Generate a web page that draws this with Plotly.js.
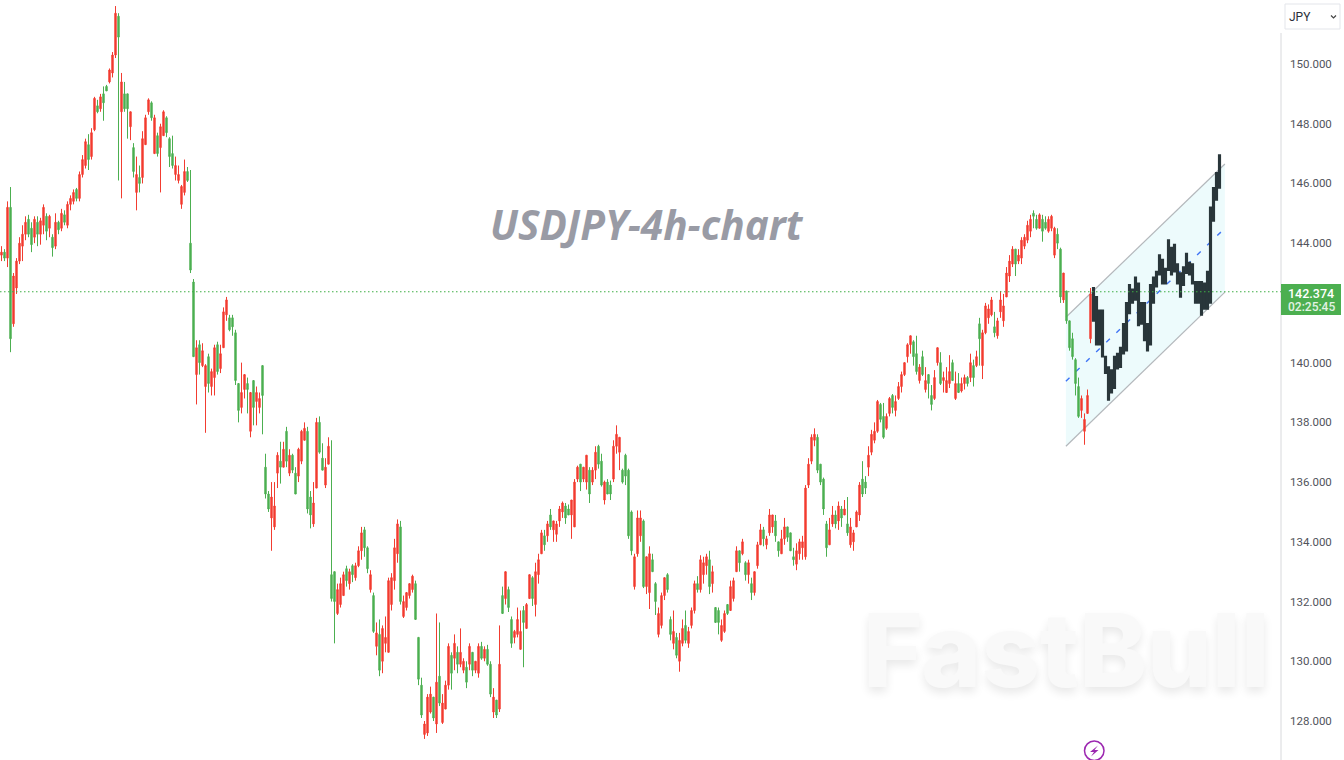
<!DOCTYPE html>
<html><head><meta charset="utf-8">
<script src="https://cdn.plot.ly/plotly-3.0.1.min.js"></script>
<style>html,body{margin:0;padding:0;background:#fff;overflow:hidden}#c{width:1344px;height:760px}</style>
</head><body><div id="c"></div>
<script>
const opens=[
143.6,143.7,143.5,145.2,141.3,142.5,143.4,143.9,144.3,144.8,144.5,144.2,144.7,144.3,144.6,144.9,144.5,144.2,143.9,144.7,
144.5,144.95,144.6,145.3,145.4,145.8,145.5,146.3,146.6,147.3,146.9,147.8,148.6,148.5,149.0,149.25,149.4,149.7,150.3,151.6,
148.4,149.0,149.0,147.9,147.2,145.7,146.2,146.2,147.3,148.4,148.7,147.0,147.6,147.2,147.6,148.2,147.5,147.0,146.3,146.1,
145.3,145.7,146.4,144.0,142.7,139.6,140.6,139.9,139.2,140.2,139.2,139.5,140.6,139.8,140.5,141.6,141.5,141.5,141.0,139.3,
138.5,139.1,139.3,137.7,139.4,138.7,138.5,139.9,136.5,135.6,134.8,134.5,136.3,136.7,136.5,137.7,136.3,136.9,136.3,136.2,
136.7,137.4,137.7,135.5,134.6,135.8,138.0,136.8,135.9,136.6,132.9,133.0,131.6,131.9,132.2,133.1,132.6,133.2,132.8,133.2,
133.7,134.4,133.8,132.4,132.2,130.5,130.9,130.0,130.6,130.3,131.9,132.7,133.6,134.5,131.5,131.8,132.2,132.4,132.6,130.8,
129.2,127.55,127.6,128.3,128.8,127.9,129.5,127.95,128.4,129.2,130.2,130.1,130.3,129.9,129.7,129.8,129.9,130.3,129.7,129.6,
130.5,130.1,130.4,129.9,128.3,128.7,128.4,132.2,132.1,132.4,131.4,130.8,130.9,130.4,131.7,131.1,132.1,132.8,131.9,132.9,
133.6,134.2,134.2,134.9,134.4,134.25,134.7,135.0,135.2,135.1,134.9,134.5,136.1,136.6,136.1,136.0,136.4,136.0,136.4,137.2,
136.7,135.4,136.0,135.9,136.1,137.2,137.0,136.4,136.9,136.4,135.0,132.5,133.6,134.2,134.7,132.5,132.3,133.4,132.6,130.9,
131.2,132.2,132.9,131.4,130.6,130.8,130.0,130.6,131.2,130.6,131.2,131.7,132.6,132.4,132.9,133.2,133.4,132.6,131.8,131.7,
130.7,131.0,131.9,131.7,132.1,133.0,133.7,133.6,133.3,132.9,132.6,132.3,133.2,133.9,134.4,133.9,134.3,134.5,134.7,134.0,
133.6,134.1,134.5,134.3,133.5,133.25,133.6,133.8,133.5,135.9,136.7,137.4,137.5,136.6,136.1,134.6,133.9,134.6,134.9,134.7,
135.1,134.9,134.6,133.9,134.0,134.5,134.9,136.1,136.0,136.5,137.0,137.4,137.7,138.6,138.2,137.8,138.3,138.9,138.4,138.8,
139.2,139.6,140.2,140.6,140.7,140.3,139.4,140.2,139.1,139.6,138.9,138.8,140.0,140.0,139.4,139.0,139.3,140.0,138.8,139.3,
139.05,139.3,139.5,139.5,139.9,139.9,141.3,139.9,141.0,141.5,141.6,141.2,140.9,141.7,141.4,142.2,142.9,143.3,143.8,143.4,
143.5,143.9,144.1,144.4,145.0,144.8,144.5,144.8,144.7,144.4,144.5,143.6,144.3,143.8,142.1,142.4,141.4,140.8,140.1,139.2,
138.4,137.7,138.3,140.8];
const highs=[
143.9,143.8,145.4,145.88,143.0,143.5,144.2,144.6,144.9,144.95,144.7,144.9,144.9,144.85,145.3,145.0,144.95,144.3,145.0,144.75,
145.15,145.1,145.4,145.6,145.8,145.85,146.4,146.95,147.5,147.65,147.85,148.9,148.8,149.0,149.25,149.3,149.85,150.4,151.94,151.7,
149.7,149.4,149.0,148.4,147.35,146.9,146.6,147.75,148.3,148.85,148.75,148.3,147.7,148.0,148.45,148.25,147.55,147.6,146.9,146.6,
145.95,146.8,146.55,146.45,142.8,140.75,140.75,140.65,139.95,140.3,139.8,140.6,140.7,140.6,141.85,142.2,141.6,141.6,141.1,139.3,
140.0,139.6,139.5,139.0,139.4,139.2,139.0,139.9,136.95,135.7,136.0,136.0,137.0,137.35,137.35,137.85,137.1,136.95,136.5,137.15,
137.75,138.0,137.85,135.7,136.0,138.15,138.2,137.3,136.8,137.5,137.4,133.0,132.6,132.8,133.0,133.2,133.1,133.25,133.3,133.85,
134.5,134.5,133.85,133.05,132.3,131.3,131.4,131.2,131.5,132.8,132.95,134.1,134.75,134.7,132.2,132.3,132.6,132.9,132.7,130.8,
129.45,128.0,128.9,129.15,128.8,131.6,131.3,128.9,129.35,130.6,130.3,130.9,130.5,131.1,130.1,130.0,130.6,130.3,130.0,130.6,
130.65,130.5,130.55,130.0,129.1,128.7,131.2,132.5,133.0,132.5,131.5,131.05,131.8,131.7,131.85,131.95,132.9,132.85,133.3,133.6,
134.4,134.4,134.7,135.1,134.7,134.7,135.2,135.35,135.3,135.25,135.4,136.1,136.55,136.6,136.5,136.9,136.5,136.5,137.2,137.25,
136.95,136.05,136.1,136.05,137.4,137.9,137.5,136.45,136.95,136.45,135.05,133.6,135.05,135.05,134.75,133.5,133.85,133.6,132.65,131.8,
132.3,132.8,132.95,131.5,131.7,130.95,130.95,131.4,131.7,131.15,131.8,132.7,132.85,133.55,133.5,133.6,133.7,133.2,131.8,131.8,
131.4,131.7,131.9,132.7,132.8,133.85,133.7,134.1,133.35,133.4,132.8,133.0,134.0,134.6,134.5,134.2,135.1,134.9,134.9,134.0,
134.4,134.8,134.5,134.3,133.8,133.95,134.1,134.2,135.9,136.8,137.6,137.8,137.6,136.6,136.15,134.7,134.8,135.2,135.05,135.35,
135.2,135.4,135.5,134.8,134.4,135.05,136.0,136.7,136.2,137.2,137.75,138.0,138.75,138.65,138.65,138.3,138.85,138.95,138.9,139.35,
139.7,140.0,140.65,140.9,140.75,140.9,139.95,140.4,139.85,139.6,139.25,139.75,140.5,140.35,139.7,139.85,140.25,140.1,139.7,139.65,
139.5,139.6,139.55,140.3,140.1,140.4,141.5,141.1,142.0,141.95,142.2,141.7,141.5,142.4,142.3,143.2,143.6,143.9,143.8,143.8,
144.2,144.3,144.75,144.95,145.1,144.95,145.0,144.95,144.9,144.9,144.95,144.55,144.5,143.85,143.0,142.4,141.4,141.0,140.15,139.5,
138.9,138.3,139.1,142.5];
const lows=[
143.4,143.4,143.2,140.35,141.2,142.3,143.3,143.4,144.1,144.2,143.7,144.0,143.9,143.95,144.3,144.1,144.2,143.55,143.8,144.3,
144.4,144.6,144.5,145.1,145.3,145.4,145.4,146.2,146.5,146.45,146.8,147.75,148.35,148.4,148.1,149.1,149.35,149.55,150.2,146.1,
145.5,148.4,147.5,147.45,146.2,145.1,145.7,146.0,147.3,148.3,148.1,147.0,146.9,145.7,147.6,147.55,146.55,146.5,146.1,146.0,
145.15,145.6,146.05,143.0,140.2,138.6,139.6,139.85,137.65,139.0,138.9,138.9,139.6,139.65,140.5,141.4,141.05,140.9,139.25,138.0,
138.3,138.8,138.3,137.5,137.9,137.9,138.3,137.6,135.45,135.0,133.7,134.4,135.8,135.95,136.5,136.5,136.2,136.3,135.6,136.0,
136.6,137.4,134.95,134.45,134.5,135.8,136.95,136.4,135.8,136.6,132.0,130.6,131.55,131.8,132.2,132.5,132.4,132.65,132.7,133.15,
133.4,133.5,132.95,132.3,130.95,130.2,129.5,129.6,130.3,130.3,131.7,132.4,133.3,131.9,131.45,131.7,132.1,132.3,131.4,129.2,
128.1,127.4,127.5,128.25,128.0,127.6,128.5,127.9,128.4,129.05,129.05,129.7,129.6,129.8,129.6,129.1,129.7,129.5,129.6,129.45,
130.05,130.0,129.85,128.8,128.1,128.1,128.3,131.6,131.9,131.65,130.45,130.6,130.8,130.4,129.8,131.1,132.1,131.85,131.5,132.6,
133.6,133.7,134.0,134.4,134.0,134.0,134.5,134.8,134.6,134.9,134.1,134.5,136.0,135.7,136.0,135.75,135.3,135.9,136.1,136.45,
135.85,135.25,135.6,135.4,136.0,136.95,136.4,135.95,135.9,134.1,133.55,132.4,133.5,134.0,132.45,132.25,131.75,133.0,131.55,130.8,
131.1,132.05,132.3,130.7,130.4,130.1,129.65,130.5,130.6,130.45,131.1,131.6,132.3,132.3,132.6,132.9,132.25,132.3,131.3,130.9,
130.65,130.95,131.55,131.7,132.0,133.0,133.0,133.55,132.7,132.6,132.05,132.2,133.1,133.9,133.85,133.75,134.2,134.3,134.0,133.5,
133.6,133.9,134.0,133.7,133.2,133.05,133.4,133.4,133.4,135.8,136.6,137.2,136.3,135.9,134.9,133.5,133.9,134.5,134.45,134.4,
134.5,134.9,134.2,133.8,133.7,134.5,134.7,135.5,135.6,136.2,136.9,137.3,137.65,138.0,137.45,137.75,138.2,138.3,138.2,138.75,
139.0,139.55,140.0,140.3,139.9,139.6,139.3,139.55,139.0,138.8,138.4,138.75,139.9,139.25,139.0,139.0,139.15,139.4,138.75,139.0,
139.0,139.1,139.2,139.35,139.2,139.85,139.9,139.45,140.95,141.3,141.55,140.85,140.8,141.5,141.2,142.2,142.7,143.2,142.9,143.3,
143.3,143.8,144.0,144.2,144.5,144.45,144.5,144.05,144.45,144.35,144.4,143.5,143.8,142.0,142.0,141.3,140.4,140.1,138.9,138.15,
138.15,137.25,138.3,140.65];
const closes=[
143.7,143.5,145.2,140.8,142.9,143.4,144.0,144.3,144.7,144.3,143.95,144.8,144.3,144.75,145.2,144.4,144.9,143.85,144.7,144.45,
145.0,144.7,145.3,145.5,145.7,145.5,146.3,146.8,147.4,146.8,147.7,148.85,148.4,148.9,148.7,149.1,149.8,150.3,151.7,150.9,
149.4,148.5,148.5,148.4,146.4,146.3,146.0,147.5,148.2,148.8,148.2,148.2,147.0,147.9,148.4,147.7,146.9,146.6,146.6,146.3,
145.9,146.4,146.1,143.1,140.2,140.5,140.0,140.4,139.9,139.3,139.7,140.5,139.7,140.3,141.7,142.1,141.1,141.2,139.4,138.4,
139.0,139.6,139.1,139.0,138.5,139.0,138.8,138.9,135.6,135.1,135.5,135.2,136.9,136.5,137.1,136.7,136.9,136.4,135.6,137.1,
137.7,137.8,135.1,134.9,135.3,138.0,137.0,136.4,136.5,137.2,132.1,132.0,132.4,132.6,132.9,132.7,133.0,132.9,133.2,133.7,
134.3,133.8,133.1,132.9,131.0,130.95,129.7,131.1,130.8,132.7,132.8,133.8,134.6,132.0,132.0,132.3,132.6,132.85,131.4,129.4,
128.2,127.9,128.8,128.9,128.1,129.3,128.6,128.6,129.2,130.5,129.6,130.6,129.9,130.3,130.0,129.3,130.5,129.7,130.0,130.5,
130.1,130.4,129.9,128.9,128.8,128.2,129.9,131.6,133.0,131.8,130.6,131.0,131.4,131.0,131.3,131.9,132.9,132.1,133.0,133.4,
134.3,133.9,134.6,134.5,134.7,134.6,135.1,135.3,134.8,134.9,135.4,136.0,136.5,136.0,136.5,136.9,135.6,136.4,137.0,136.6,
135.9,136.0,135.6,135.6,137.2,137.6,137.5,136.0,136.2,134.2,133.7,133.5,134.8,134.8,132.5,133.5,133.6,133.0,132.0,131.6,
132.2,132.8,132.4,130.9,131.0,130.2,130.7,131.1,130.7,131.0,131.7,132.6,132.4,133.4,133.3,133.5,132.5,133.0,131.3,131.3,
131.2,131.6,131.6,132.5,132.7,133.7,133.3,134.0,132.9,133.3,132.3,133.0,133.9,134.4,134.1,134.1,134.9,134.9,134.2,133.7,
134.1,134.5,134.15,133.7,133.4,133.7,134.0,134.0,135.8,136.6,137.5,137.6,136.4,136.0,135.1,133.8,134.4,134.9,134.6,135.2,
134.8,135.1,134.3,134.5,134.3,135.0,135.9,135.6,135.8,136.9,137.6,137.7,138.7,138.1,137.5,138.2,138.8,138.5,138.7,139.2,
139.6,140.0,140.6,140.9,140.2,139.7,139.85,139.6,139.4,139.3,138.6,139.5,140.5,139.3,139.5,139.4,139.7,139.4,139.3,139.0,
139.3,139.5,139.3,140.0,139.5,140.2,140.8,141.0,141.9,141.8,142.1,141.0,141.4,142.1,141.9,143.0,143.4,143.8,143.3,143.6,
144.1,144.2,144.6,144.8,144.9,144.5,144.95,144.4,144.5,144.8,144.9,144.5,144.0,142.2,143.0,141.4,140.5,140.2,139.3,138.2,
138.8,138.1,138.9,142.3];

const darkTops=[142.5,142.2,141.75,141.75,140.2,139.85,139.75,140.2,140.3,140.5,141.3,142.0,142.6,142.45,142.85,142.65,142.0,142.0,141.3,142.6,142.85,143.05,143.6,143.45,143.15,144.1,143.85,143.95,143.3,143.0,143.2,143.65,143.35,143.3,142.7,142.7,142.7,142.65,143.05,145.2,145.85,146.35,146.95];
const darkBottoms=[141.4,140.6,140.6,140.2,139.65,138.75,139.0,139.15,139.8,139.85,140.3,140.4,141.65,142.0,142.1,141.25,141.3,140.75,140.4,140.6,142.0,142.55,142.95,142.65,142.65,143.1,142.95,143.05,142.65,142.2,142.6,143.0,142.95,142.65,142.0,142.0,141.6,141.8,141.8,142.0,144.75,145.45,145.85];

const channelUpper=[141.52,146.65];
const channelMiddle=[139.38,144.50];
const channelLower=[137.20,142.36];
const channelBars=[354.8,407.8];
const lastPrice=142.374;
const countdown="02:25:45";
const tickValues=[128,130,132,134,136,138,140,144,146,148,150];
const titleText="USDJPY-4h-chart";
const watermark="FastBull";

const W=1344,H=760,R=1281;
const px=x=>x/R, py=y=>1-y/H;
const barIndex=opens.map((_,i)=>i);
const darkIndex=darkTops.map((_,i)=>opens.length+i);
const UP='#f23c30',DOWN='#4caf50',DARK='#29363a';

const traces=[
 {type:'candlestick',x:barIndex,open:opens,high:highs,low:lows,close:closes,showlegend:false,whiskerwidth:0,
  increasing:{line:{color:UP,width:1},fillcolor:UP},decreasing:{line:{color:DOWN,width:1},fillcolor:DOWN}},
 {type:'candlestick',x:darkIndex,open:darkBottoms,high:darkTops,low:darkBottoms,close:darkTops,showlegend:false,whiskerwidth:0,
  increasing:{line:{color:DARK,width:1.8},fillcolor:DARK},decreasing:{line:{color:DARK,width:1.8},fillcolor:DARK}}
];
const ann=(x,y,text,font,extra)=>Object.assign({xref:'paper',yref:'paper',x:px(x),y:py(y),text,showarrow:false,font,xanchor:'left',yanchor:'middle'},extra||{});
const paperRect=(a,b,c,d,o)=>Object.assign({type:'rect',xref:'paper',yref:'paper',x0:px(a),x1:px(c),y0:py(b),y1:py(d),layer:'above'},o);
const pathOf=pts=>'M'+pts.map(p=>px(p[0])+','+py(p[1])).join('L');
const segment=(ys,line)=>({type:'line',xref:'x',yref:'y',layer:'below',x0:channelBars[0],x1:channelBars[1],y0:ys[0],y1:ys[1],line});
const layout={
 width:W,height:H,margin:{l:0,r:W-R,t:0,b:0},paper_bgcolor:'#fff',plot_bgcolor:'#fff',showlegend:false,boxgap:0.35,
 xaxis:{visible:false,range:[-0.5,426.5],rangeslider:{visible:false},fixedrange:true},
 yaxis:{side:'right',range:[126.694,152.143],showgrid:false,zeroline:false,showline:false,ticks:'',tickmode:'array',tickvals:tickValues,
  tickformat:'.3f',tickfont:{family:'Roboto, Arial',size:11.5,color:'#51545c'},ticklabelstandoff:8,fixedrange:true},
 shapes:[
  {type:'path',xref:'x',yref:'y',layer:'below',fillcolor:'#edfbfc',line:{width:0},
   path:`M${channelBars[0]},${channelUpper[0]}L${channelBars[1]},${channelUpper[1]}L${channelBars[1]},${channelLower[1]}L${channelBars[0]},${channelLower[0]}Z`},
  segment(channelUpper,{color:'#b4b8bc',width:1.2}),
  segment(channelLower,{color:'#b4b8bc',width:1.2}),
  segment(channelMiddle,{color:'#3f74f5',width:1.4,dash:'5px,9px'}),
  {type:'line',xref:'paper',yref:'paper',x0:px(1281),x1:px(1281),y0:py(33),y1:py(760),line:{color:'#d8d9dc',width:1}},
  {type:'line',xref:'paper',yref:'y',x0:0,x1:1,y0:lastPrice,y1:lastPrice,line:{color:'#3fae45',width:1.2,dash:'1.5px,2.5px'}},
  paperRect(1281,284,1341,315,{fillcolor:'#4caf50',line:{width:0}}),
  paperRect(1285,4,1340,29,{fillcolor:'#fff',line:{color:'#e3e5ea',width:1}}),
  {type:'path',xref:'paper',yref:'paper',path:pathOf([[1331,15.5],[1333.5,18],[1336,15.5]]),line:{color:'#444',width:1.2}},
  {type:'circle',xref:'paper',yref:'paper',x0:px(1084.5),x1:px(1104),y0:py(741),y1:py(760.5),line:{color:'#9c27b0',width:1.5},fillcolor:'rgba(0,0,0,0)'},
  {type:'path',xref:'paper',yref:'paper',path:pathOf([[1098,745.5],[1090,752],[1094,752],[1091,756.5],[1098.5,750],[1094.5,750]])+'Z',fillcolor:'#9c27b0',line:{width:0}}
 ],
 annotations:[
  ann(647,224,titleText,{family:'Open Sans',size:40.5,color:'#999ba5',style:'italic',weight:700},{xanchor:'center'}),
  ann(1066,650,watermark,{family:'Inter',size:102,color:'#f9f9f9',weight:800,shadow:'0px 5px 10px #e9e9e9'},{xanchor:'center'}),
  ann(1311,293,lastPrice.toFixed(3),{family:'Roboto',size:12.5,color:'#fff',weight:500},{xanchor:'center'}),
  ann(1311,307,countdown,{family:'Roboto',size:12,color:'#e3f3e4',weight:500},{xanchor:'center'}),
  ann(1287,17,'JPY',{family:'Roboto',size:12,color:'#2a2e39'})
 ]
};
Plotly.newPlot('c',traces,layout,{displayModeBar:false,staticPlot:true});
</script></body></html>
